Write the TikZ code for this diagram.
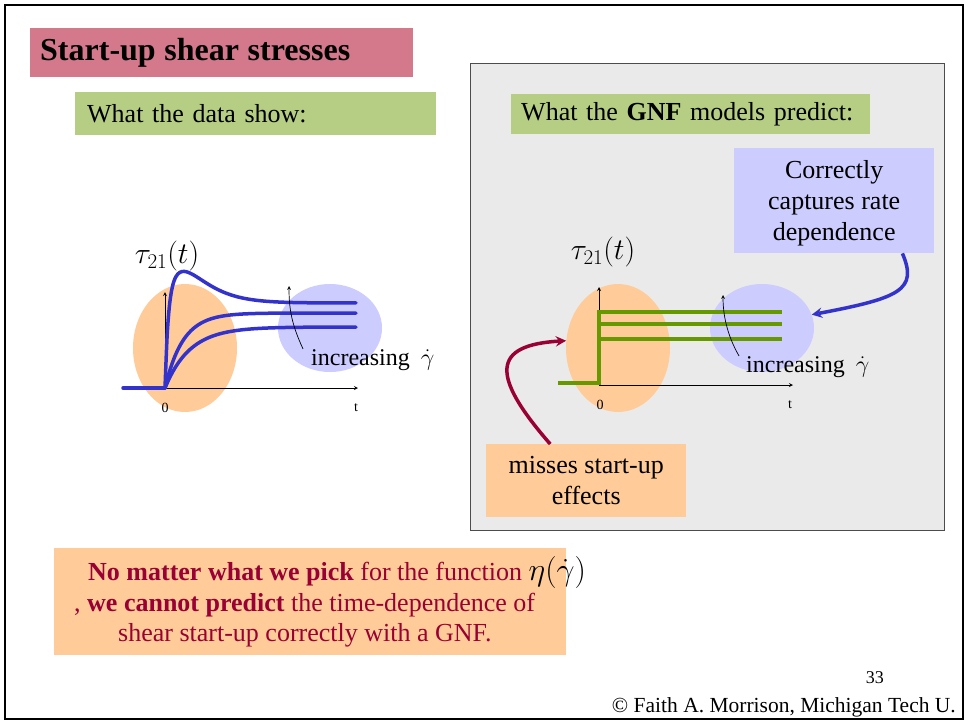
\documentclass[tikz,border=0pt]{standalone}
\usepackage{fix-cm}
\usepackage{fontspec}
\setmainfont{Liberation Serif}
\usetikzlibrary{shapes.geometric}

\definecolor{titlepink}{RGB}{212,121,139}
\definecolor{headgreen}{RGB}{181,206,132}
\definecolor{panelgray}{RGB}{234,234,234}
\definecolor{softorange}{RGB}{255,204,153}
\definecolor{softblue}{RGB}{204,204,255}
\definecolor{curveblue}{RGB}{51,51,204}
\definecolor{stepgreen}{RGB}{102,153,0}
\definecolor{darkred}{RGB}{153,0,51}

\newcommand{\slidefont}{\fontsize{26}{31}\selectfont}
\newcommand{\tickfont}{\fontsize{14}{16}\selectfont}
\newcommand{\taufont}{\fontsize{30}{34}\selectfont}

\begin{document}
\begin{tikzpicture}[x=1pt, y=-1pt, >=stealth,
    every node/.style={inner sep=0pt, font=\slidefont},
    blob/.style={ellipse, minimum width=104pt, minimum height=128pt},
    smallblob/.style={blob, minimum height=88pt},
    headbox/.style={anchor=north west, fill=headgreen, align=left},
    curve/.style={curveblue, line width=3.5pt, line cap=round},
    stepline/.style={stepgreen, line width=4.5pt},
    axis/.style={->, line width=0.8pt},
    hint/.style={->, line width=0.7pt}]
  % 0. 画布与外框
  \useasboundingbox (0,0) rectangle (968,723);
  \fill[white] (0,0) rectangle (968,723);
  \draw[line width=2pt] (5,5) rectangle (963,719);

  % 1. 标题与小标题
  \node[anchor=north west, fill=titlepink, minimum width=383pt, minimum height=49pt,
        text width=363pt, inner xsep=10pt, align=left] (title) at (30,28)
        {\fontsize{32}{36}\selectfont\bfseries Start-up shear stresses};
  \node[headbox, minimum height=43pt, text width=337pt, inner xsep=12pt] (dataHead) at (75,92)
        {What the data show:};

  % 2. 右侧灰色面板
  \node[anchor=north west, draw=gray!60!black, line width=1pt, fill=panelgray,
        minimum width=474pt, minimum height=467pt] (panel) at (470,63) {};
  \node[headbox, minimum height=40pt, text width=339pt, inner xsep=10pt] (gnfHead) at (511,94)
        {What the \textbf{GNF} models predict:};

  % 3. 左图：实验数据
  \node[blob, fill=softorange] (orL) at (185,348) {};
  \node[smallblob, fill=softblue] (blL) at (330,328) {};
  \coordinate (oL) at (165,388);
  \draw[axis] (oL) -- ++(193,0);
  \draw[axis] (oL) -- ++(0,-96);
  \node (zeroL) at (165,408) {\tickfont 0};
  \node (tL) at (356,408) {\tickfont t};
  \node[font=\taufont] (tauL) at (167,256) {$\tau_{21}(t)$};
  \draw[curve] (123,388) -- (oL);
  \draw[curve] plot[smooth, domain=0:191, samples=90] ({165+\x}, {388-85*(1-exp(-\x/3))-4.8*\x*exp(-\x/18)});
  \draw[curve] plot[smooth, domain=0:191, samples=60] ({165+\x}, {388-75*(1-exp(-\x/18))});
  \draw[curve] plot[smooth, domain=0:191, samples=60] ({165+\x}, {388-61*(1-exp(-\x/25))});
  \node[anchor=base west, font=\fontsize{24}{28}\selectfont] (incL) at (311,365)
        {increasing\hspace{11pt}$\dot{\gamma}$};
  \coordinate (upL) at (289,286);
  \draw[hint] ([xshift=-8pt]incL.north west) .. controls (292,325) and (289,310) .. (upL);

  % 4. 右图：GNF 预测
  \node[blob, fill=softorange] (orR) at (618,348) {};
  \node[smallblob, fill=softblue] (blR) at (762,328) {};
  \coordinate (oR) at (599,385);
  \draw[axis] (oR) -- ++(194,0);
  \draw[axis] (oR) -- ++(0,-98);
  \node (zeroR) at (600,405) {\tickfont 0};
  \node (tR) at (790,405) {\tickfont t};
  \node[font=\taufont] (tauR) at (603,252) {$\tau_{21}(t)$};
  \draw[stepline] (558,383) -- (599,383) -- (599,312) -- (782,312);
  \draw[stepline] (599,324) -- (782,324);
  \draw[stepline] (599,339) -- (782,339);
  \node[anchor=base west, font=\fontsize{24}{28}\selectfont] (incR) at (746,372)
        {increasing\hspace{11pt}$\dot{\gamma}$};
  \coordinate (upR) at (723,295);
  \draw[hint] ([xshift=-7pt]incR.north west) .. controls (727,335) and (723,315) .. (upR);

  % 5. 说明框与箭头
  \node[anchor=north west, fill=softblue, minimum width=200pt, minimum height=105pt,
        text depth=0pt, align=center] (rate) at (734,148) {Correctly\\captures rate\\dependence};
  \node[anchor=north west, fill=softorange, minimum width=200pt, minimum height=73pt,
        text depth=0pt, align=center] (miss) at (486,444) {misses start-up\\effects};
  \draw[->, curveblue, line width=3.5pt] ([xshift=-32pt]rate.south east)
        .. controls (918,290) and (900,298) .. (blR.15);
  \draw[->, darkred, line width=3.5pt] ([xshift=-36pt]miss.north)
        .. controls (490,375) and (492,345) .. (orR.172);

  % 6. 底部结论
  \node[anchor=north west, fill=softorange, minimum width=512pt, minimum height=107pt] (note) at (54,548) {};
  \node[anchor=base west, text=darkred] (noteA) at (88,580)
        {\textbf{No matter what we pick} for the function {\color{black}\fontsize{32}{36}\selectfont$\eta(\dot{\gamma})$}};
  \node[anchor=base west, text=darkred] (noteB) at (74,611)
        {, \textbf{we cannot predict} the time-dependence of};
  \node[anchor=base west, text=darkred] (noteC) at (118,641)
        {shear start-up correctly with a GNF.};

  % 7. 页码与署名
  \node[anchor=base east, font=\fontsize{18}{20}\selectfont] (page) at (884,683) {33};
  \node[anchor=base east, font=\fontsize{21.5}{24}\selectfont] (credit) at (956,712)
        {© Faith A. Morrison, Michigan Tech U.};
\end{tikzpicture}
\end{document}
